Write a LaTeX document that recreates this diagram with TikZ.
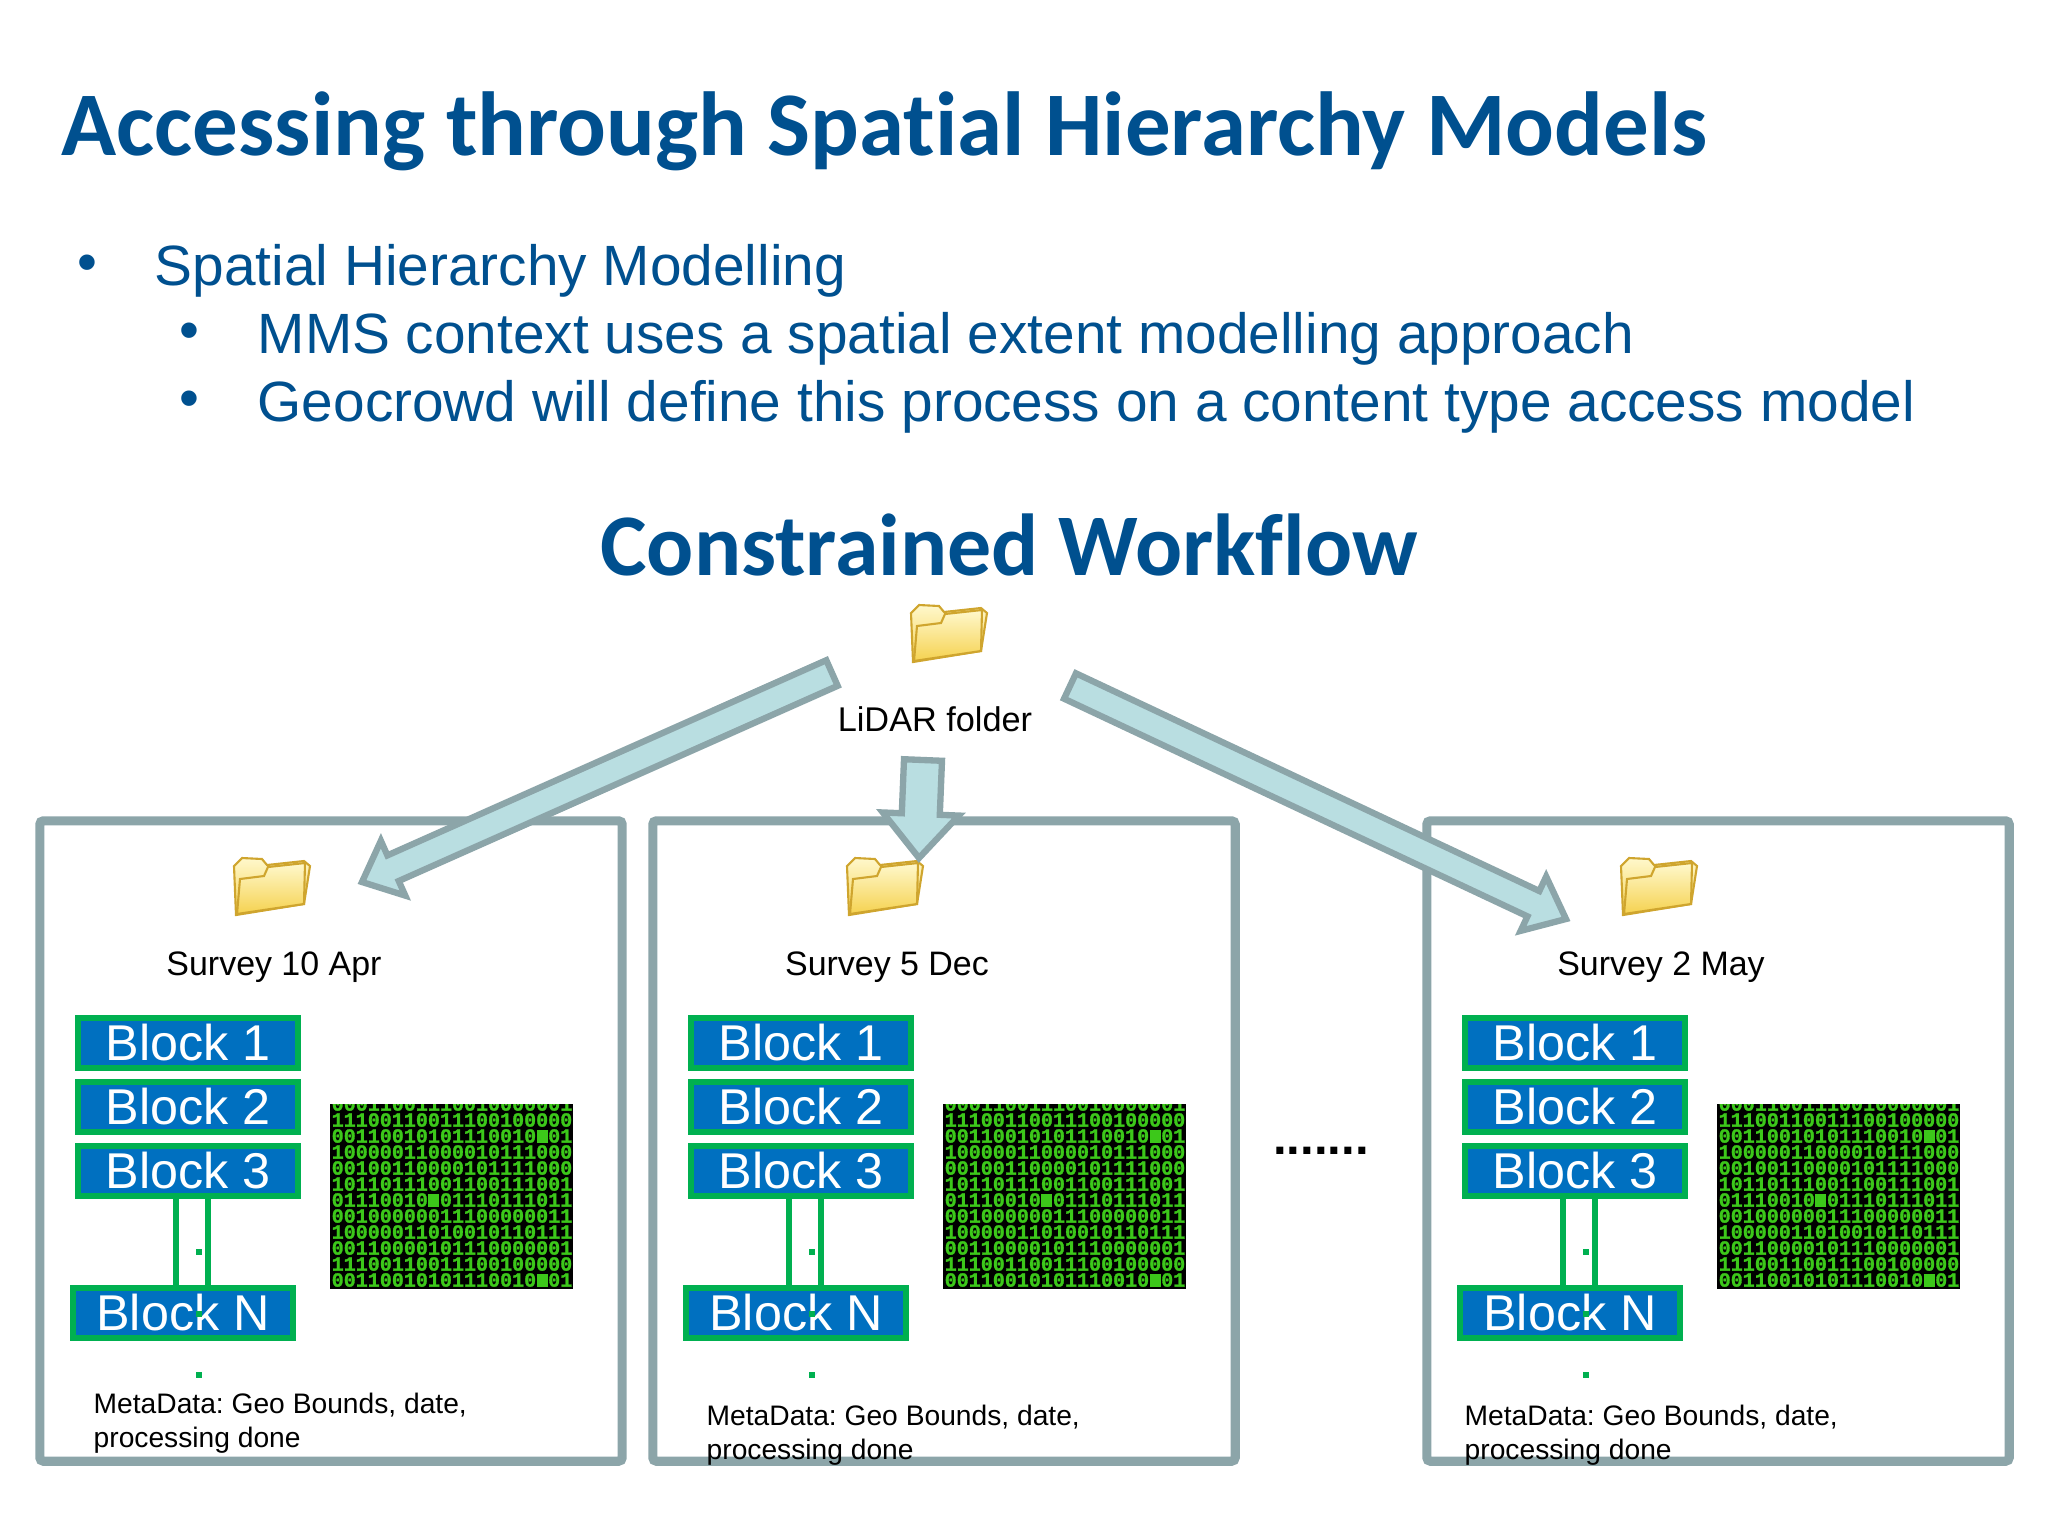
\documentclass[tikz,border=0pt]{standalone}
\usepackage{fontspec}
\setmainfont{Liberation Sans}
\newfontfamily\titlefont[Ligatures=NoCommon]{Carlito}
\newfontfamily\bitfont[BoldFeatures={FakeBold=1.5}]{Liberation Mono}
\usetikzlibrary{calc,positioning}
\definecolor{titleblue}{HTML}{00508F}
\definecolor{framegray}{HTML}{8CA5A9}
\definecolor{arrowfill}{HTML}{B9DEE1}
\definecolor{blockblue}{HTML}{0070C0}
\definecolor{blockgreen}{HTML}{00B050}
\definecolor{bitgreen}{HTML}{3CC81A}
\definecolor{folderedge}{HTML}{CFA52E}
\definecolor{folderlight}{HTML}{FFF8CC}
\definecolor{folderdark}{HTML}{F5D250}
\newcommand{\bitmark}{\makebox[0.6em]{\rule{0.55em}{0.62em}}}
% block arrow between two named coordinates: half shaft, half head, head length
\newcommand{\blockarrow}[5]{
	\coordinate (#1-neck) at ($(#2)!#5!(#1)$);
	\draw[block arrow] ($(#1)!#3!90:(#2)$) -- ($(#1-neck)!#3!-90:(#1)$) -- ($(#1-neck)!#4!-90:(#1)$) -- (#2)
		-- ($(#1-neck)!#4!90:(#1)$) -- ($(#1-neck)!#3!90:(#1)$) -- ($(#1)!#3!-90:(#2)$) -- cycle;
}
\tikzset{
	panel frame/.style={draw=framegray,line width=2.6pt,rounded corners=1pt},
	block arrow/.style={draw=framegray,fill=arrowfill,line width=1.8pt,line join=miter},
	blockbox/.style={draw=blockgreen,fill=blockblue,line width=1.6pt,text=white,minimum width=2.2cm,minimum height=0.5cm,inner sep=0pt,font=\fontsize{14.3}{14.3}\selectfont},
	link line/.style={draw=blockgreen,line width=1.6pt},
	dotmark/.style={fill=blockgreen,minimum size=0.06cm,inner sep=0pt},
	survey text/.style={font=\fontsize{9.65}{9.65}\selectfont,inner sep=0pt},
	meta text/.style={font=\frenchspacing\fontsize{8.02}{9.7}\selectfont,align=left,anchor=north west,inner sep=0pt},
	body text/.style={font=\fontsize{16.15}{16.15}\selectfont,text=titleblue,anchor=west,inner sep=0pt},
	head text/.style={text=titleblue,inner sep=0pt},
	bit row/.style={font=\bitfont\bfseries\fontsize{5.7}{5.7}\selectfont,text=bitgreen,anchor=west,inner sep=0pt},
	folder/.pic={
		\shade[top color=folderlight,bottom color=folderdark,draw=folderedge,line width=0.6pt]
			(-38,-20) -- (-30,-28) -- (-10,-27) -- (-5,-21) -- (32,-25) -- (38,-20) -- (32,18) -- (-36,29) -- cycle;
		\shade[top color=folderlight,bottom color=folderdark,draw=folderedge,line width=0.6pt]
			(-32,-7) -- (-8,-10) -- (-4,-19) -- (33,-23) -- (32,18) -- (-35,28) -- cycle;
	},
}
\begin{document}
\begin{tikzpicture}[x=0.01cm,y=-0.01cm]
	\useasboundingbox (0,0) rectangle (2048,1536);

	\node[head text,anchor=west,font=\titlefont\bfseries\fontsize{25.86}{25.86}\selectfont] (title) at (61,131) {Accessing through Spatial Hierarchy Models};

	\node[body text] (item-1) at (154,271) {Spatial Hierarchy Modelling};
	\node[body text] (item-2) at (257,339) {MMS context uses a spatial extent modelling approach};
	\node[body text] (item-3) at (257,407) {Geocrowd will define this process on a content type access model};
	\node[body text,anchor=center] (bullet-1) at (87,268) {•};
	\node[body text,anchor=center] (bullet-2) at (189,336) {•};
	\node[body text,anchor=center] (bullet-3) at (189,404) {•};

	\node[head text,font=\titlefont\bfseries\fontsize{25}{25}\selectfont] (workflow) at (1009,545) {Constrained Workflow};

	\pic (root) at (949,633) {folder};
	\node[survey text,font=\fontsize{9.75}{9.75}\selectfont] (root-label) at (935,719) {LiDAR folder};

	\foreach \p/\dx/\metay/\mdx/\survey in {1/0/1392/0/Survey 10 Apr, 2/613/1404/0/Survey 5 Dec, 3/1387/1404/-16/Survey 2 May}
	{
		\begin{scope}[shift={(\dx,0)}]
			\node[panel frame,minimum width=5.82cm,minimum height=6.4cm] (frame-\p) at (331,1141) {};

			\pic (folder-\p) at (272,886) {folder};
			\node[survey text] (survey-\p) at (274,967) {\survey};

			\node[blockbox] (b1-\p) at (188,1043) {Block 1};
			\node[blockbox] (b2-\p) at (188,1107) {Block 2};
			\node[blockbox] (b3-\p) at (188,1171) {Block 3};
			\node[blockbox] (bn-\p) at (183,1313) {Block N};

			\path[link line] ($(b3-\p.south)+(-12,0)$) -- ($(bn-\p.north)+(-7,0)$);
			\path[link line] ($(b3-\p.south)+(20,0)$) -- ($(bn-\p.north)+(25,0)$);

			\node[dotmark] (dot-a-\p) at (199,1252) {};
			\node[dotmark] (dot-b-\p) at (199,1314) {};
			\node[dotmark] (dot-c-\p) at (199,1375) {};

			\node[meta text] (meta-\p) at (93+\mdx,\metay) {MetaData: Geo Bounds, date,\\processing done};

			\fill[black] (330,1104) rectangle (573,1289);
			\begin{scope}
				\clip (330,1104) rectangle (573,1289);
				\foreach \bits [count=\r from 0] in {000110011100100000011,
					111001100111001000000,
					00110010101110010\bitmark01,
					1000001100001011100000,
					0010011000010111100000,
					1011011100110011100110,
					01110010\bitmark01110111011,
					001000000111000000110,
					1000001101001011011101,
					0011000010111000000110,
					111001100111001000000,
					00110010101110010\bitmark01}
				{
					\node[bit row] (bits-\p-\r) at (331,1104+\r*16) {\bits};
				}
			\end{scope}
		\end{scope}
	}

	\node[head text,font=\bfseries\fontsize{14}{14}\selectfont,text=black] (more) at (1321,1151) {.......};

	% arrows out of the root folder
	\coordinate (left-tail) at (832,673);
	\coordinate (left-tip) at (362,882);
	\coordinate (mid-tail) at (923,760);
	\coordinate (mid-tip) at (919,858);
	\coordinate (right-tail) at (1070,686);
	\coordinate (right-tip) at (1566,919);

	\blockarrow{left-tail}{left-tip}{0.14cm}{0.30cm}{0.34cm}
	\blockarrow{mid-tail}{mid-tip}{0.19cm}{0.38cm}{0.44cm}
	\blockarrow{right-tail}{right-tip}{0.14cm}{0.30cm}{0.36cm}
\end{tikzpicture}
\end{document}
